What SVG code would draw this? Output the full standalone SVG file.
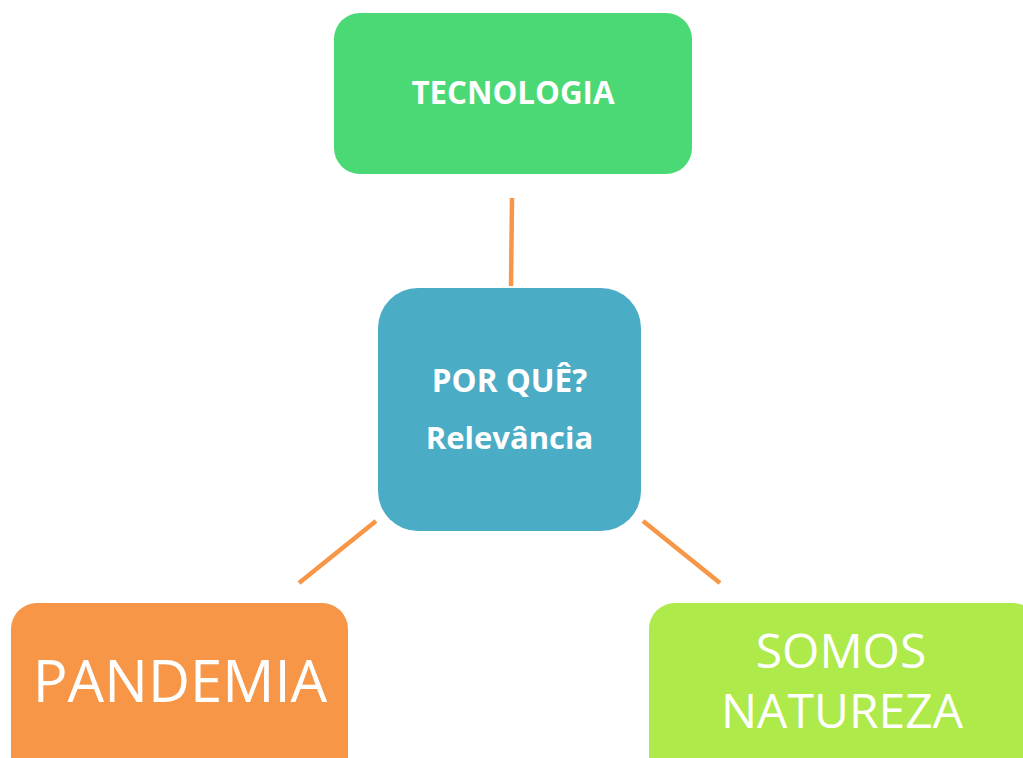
<svg xmlns="http://www.w3.org/2000/svg" width="1023" height="758" viewBox="0 0 1023 758">
<style>
.b{font-family:"Open Sans","Liberation Sans",sans-serif;font-weight:bold;fill:#fff;text-anchor:middle}
.r{font-family:"Open Sans","Liberation Sans",sans-serif;fill:#fff;text-anchor:middle}
.c{stroke:#F79646;stroke-width:4.5;fill:none}
</style>
<rect width="1023" height="758" fill="#fff"/>
<g id="connectors">
<line class="c" x1="512" y1="198" x2="511" y2="286"/>
<line class="c" x1="376" y1="521" x2="299" y2="583"/>
<line class="c" x1="643" y1="521" x2="720" y2="583"/>
</g>
<g id="tecnologia">
<rect x="334" y="13" width="358" height="161" rx="26" fill="#4AD975"/>
<text class="b" x="513" y="104" font-size="31.3">TECNOLOGIA</text>
</g>
<g id="porque">
<rect x="378" y="288" width="263" height="243" rx="40" fill="#4BACC6"/>
<text class="b" x="509.5" y="392" font-size="31.5">POR QUÊ?</text>
<text class="b" x="509.5" y="449" font-size="31">Relevância</text>
</g>
<g id="pandemia">
<rect x="11" y="603" width="337" height="190" rx="26" fill="#F79646"/>
<text class="r" x="180" y="702" font-size="58">PANDEMIA</text>
</g>
<g id="natureza">
<rect x="649" y="603" width="390" height="190" rx="26" fill="#ADEA4A"/>
<text class="r" x="841" y="668" font-size="48">SOMOS</text>
<text class="r" x="842" y="728" font-size="48">NATUREZA</text>
</g>
</svg>
